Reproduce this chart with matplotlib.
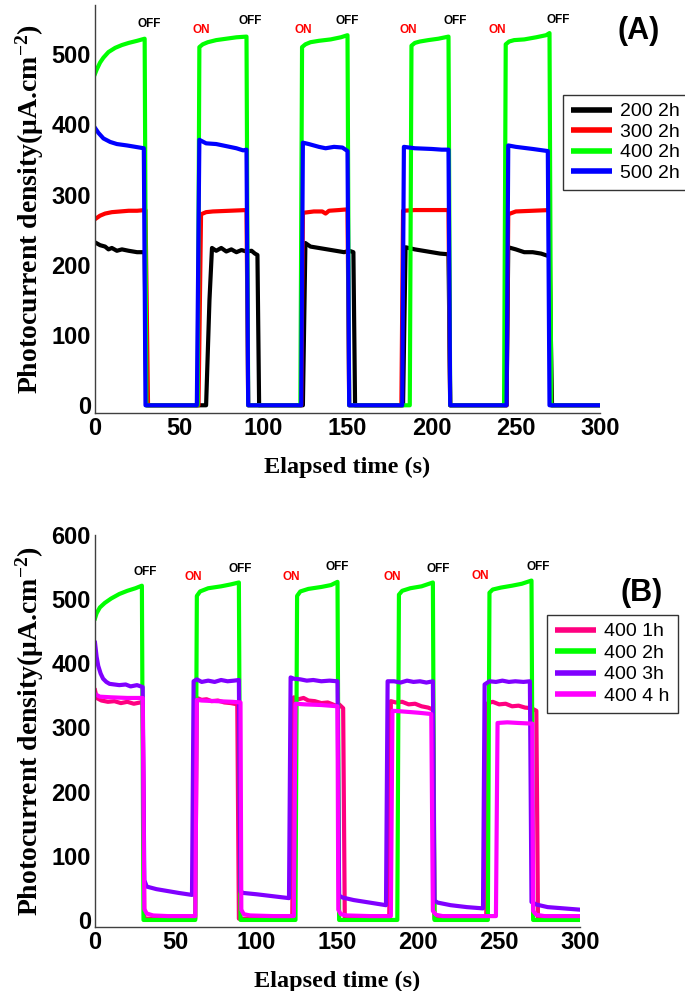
import matplotlib
matplotlib.use('Agg')
import matplotlib.pyplot as plt

# photocurrent transients: (time s, current uA/cm2)
# panel A - different annealing temperatures, 2h
a_200_2h = [(0, 232), (3, 228), (6, 226), (8, 222), (10, 224), (13, 220), (16, 222), (20, 220),
            (25, 218), (29.5, 218), (30.5, 0), (66, 0), (68, 150), (69.5, 224), (72, 220), (75, 224),
            (78, 219), (81, 222), (84, 218), (87, 221), (90, 219), (93, 220), (95, 216), (96.5, 214),
            (97.5, 0), (123.5, 0), (125, 231), (128, 226), (133, 224), (138, 222), (143, 220),
            (148, 218), (151, 220), (153.5, 218), (154.5, 0), (183, 0), (184.5, 225), (190, 222),
            (195, 220), (200, 218), (205, 216), (210, 215), (211, 0), (244.5, 0), (245.5, 225),
            (250, 222), (255, 218), (260, 218), (265, 216), (270, 212), (271.5, 0), (300, 0)]
a_300_2h = [(0, 265), (3, 270), (6, 273), (10, 275), (15, 276), (20, 277), (25, 277), (30, 278),
            (31.5, 0), (61.5, 0), (63, 272), (66, 275), (70, 276), (80, 277), (90, 278), (91, 0),
            (122.5, 0), (123.5, 274), (130, 276), (135, 276), (137, 273), (139, 277), (145, 278),
            (150, 279), (151, 0), (182, 0), (183, 277), (190, 278), (200, 278), (210, 278), (211, 0),
            (244.5, 0), (245.5, 272), (250, 276), (260, 277), (270, 278), (271, 0), (300, 0)]
a_400_2h = [(0, 472), (1, 478), (3, 488), (5, 495), (8, 503), (12, 509), (16, 513), (20, 516),
            (25, 519), (29.5, 522), (30.5, 0), (61, 0), (62, 510), (64, 514), (67, 517), (72, 520),
            (78, 522), (84, 524), (90, 525), (91, 0), (122, 0), (123, 510), (125, 514), (128, 517),
            (133, 519), (140, 521), (146, 524), (150, 527), (151, 0), (187, 0), (188, 512),
            (190, 516), (193, 518), (198, 520), (204, 522), (210, 525), (211, 0), (243, 0),
            (244, 514), (246, 518), (249, 520), (255, 521), (262, 524), (268, 527), (270, 530),
            (271, 0), (300, 0)]
a_500_2h = [(0, 395), (2, 388), (5, 380), (9, 375), (13, 372), (19, 370), (24, 368), (29, 366),
            (30, 0), (60.5, 0), (62, 378), (66, 373), (72, 372), (78, 369), (84, 366), (88, 363),
            (90, 364), (91, 0), (122.5, 0), (123.5, 374), (127, 372), (133, 368), (137, 366),
            (142, 368), (147, 367), (150, 362), (151, 0), (182.5, 0), (183.5, 368), (190, 366),
            (200, 365), (206, 364), (210, 364), (211, 0), (244.5, 0), (245.5, 370), (250, 368),
            (260, 365), (269, 362), (270, 0), (300, 0)]

# panel B - 400 C, different annealing times
b_400_1h = [(0, 358), (1, 346), (4, 342), (8, 340), (12, 341), (16, 338), (20, 340), (24, 337),
            (28, 339), (29.5, 337), (30.5, 2), (62, 2), (63, 346), (66, 343), (69, 344), (72, 341),
            (76, 342), (80, 339), (84, 338), (88, 336), (89, 2), (122, 2), (123, 347), (126, 344),
            (129, 346), (132, 342), (136, 341), (140, 338), (144, 339), (148, 335), (150, 333),
            (151, 336), (153.5, 330), (154.5, 2), (182, 2), (183, 341), (186, 339), (190, 340),
            (194, 336), (198, 337), (202, 333), (206, 331), (209, 328), (210, 2), (242, 2),
            (243, 338), (246, 340), (250, 336), (254, 337), (258, 333), (262, 334), (266, 331),
            (270, 330), (273, 326), (274, 2), (300, 2)]
b_400_2h = [(0, 470), (1, 478), (3, 487), (6, 494), (10, 501), (15, 508), (20, 513), (25, 517),
            (29, 521), (30, 0), (62, 0), (63, 505), (65, 512), (70, 517), (78, 520), (84, 523),
            (89, 526), (90, 0), (124, 0), (125, 505), (127, 512), (132, 516), (140, 519), (146, 522),
            (150, 527), (151, 0), (187, 0), (188, 507), (190, 513), (195, 517), (202, 520),
            (209, 526), (210, 0), (243, 0), (244, 510), (246, 515), (251, 518), (258, 521),
            (264, 524), (270, 529), (271, 0), (300, 0)]
b_400_3h = [(0, 432), (1, 410), (2, 396), (3.5, 384), (5, 376), (7, 371), (9, 368), (12, 367),
            (15, 366), (19, 367), (22, 364), (26, 366), (29.5, 363), (30.5, 62), (32, 52), (38, 48),
            (45, 45), (52, 42), (60, 39), (61, 372), (63, 375), (66, 371), (70, 373), (74, 371),
            (78, 374), (82, 372), (86, 373), (89, 374), (90, 44), (92, 42), (100, 40), (110, 37),
            (120, 34), (121, 378), (123, 376), (127, 375), (131, 373), (135, 374), (140, 372),
            (145, 373), (150, 372), (151, 38), (153, 35), (160, 31), (170, 27), (180, 23),
            (181, 372), (185, 372), (189, 370), (193, 373), (197, 371), (201, 372), (205, 370),
            (209, 372), (210, 30), (212, 27), (220, 23), (230, 20), (240, 18), (241, 367),
            (244, 372), (248, 371), (252, 373), (256, 371), (260, 372), (265, 371), (269, 372),
            (270, 28), (273, 24), (280, 20), (290, 18), (300, 16)]
b_400_4h = [(0, 352), (3, 348), (10, 347), (20, 346), (29.5, 346), (30.5, 17), (32, 10), (36, 7),
            (45, 6), (62, 6), (63, 343), (66, 342), (75, 341), (85, 340), (90, 339), (90.5, 16),
            (92, 9), (96, 7), (110, 6), (123, 6), (124, 337), (130, 336), (140, 335), (150, 333),
            (150.5, 16), (152, 9), (156, 7), (170, 6), (183, 6), (184, 326), (190, 325), (200, 323),
            (208, 321), (209, 14), (211, 8), (215, 6), (230, 6), (248, 6), (249, 307), (255, 308),
            (262, 307), (270.5, 306), (271, 14), (273, 8), (278, 6), (300, 6)]

labels_a = ['200 2h', '300 2h', '400 2h', '500 2h']
colors_a = ['black', '#ff0000', '#00ff00', '#0000ff']
labels_b = ['400 1h', '400 2h', '400 3h', '400 4 h']
colors_b = ['#ff0080', '#00ff00', '#8000ff', '#ff00ff']

# light on/off marks
off_a = [(32, 543), (92, 547), (150, 547), (214, 547), (275, 548)]
on_a = [(63, 534), (123.5, 534), (186, 534), (239, 535)]
off_b = [(31, 542), (90, 547), (149.5, 550), (212, 547), (274, 550)]
on_b = [(61, 534), (121.6, 534), (184, 534), (238, 536)]

plt.rcParams['font.family'] = ['Liberation Sans Narrow', 'Liberation Sans', 'DejaVu Sans']
plt.rcParams['font.weight'] = 'bold'
plt.rcParams['mathtext.fontset'] = 'custom'
plt.rcParams['mathtext.rm'] = 'Liberation Serif:bold'
plt.rcParams['mathtext.it'] = 'Liberation Serif:bold'
plt.rcParams['mathtext.bf'] = 'Liberation Serif:bold'

W, H = 685, 991
fig = plt.figure(figsize=(W / 100, H / 100), dpi=100)
ax1 = fig.add_axes([95 / W, 1 - 413 / H, 505 / W, 408 / H])
ax2 = fig.add_axes([95 / W, 1 - 927 / H, 485 / W, 392 / H])

serif_x = dict(family=['Liberation Serif', 'DejaVu Serif'], weight='bold', size=17.5)
serif_y = dict(family=['Liberation Serif', 'DejaVu Serif'], weight='bold', size=20)
ylab = 'Photocurrent density(\u03bcA.cm$^{-2}$)'


def draw(ax, series, labels, colors, offs, ons, ylim, yticks, tag, tag_pos, leg_pos, leg_h):
    for s, lab, c in zip(series, labels, colors):
        t = [p[0] for p in s]
        v = [p[1] for p in s]
        ax.plot(t, v, color=c, lw=3, label=lab, solid_joinstyle='round')
    ax.set_xlim(0, 300)
    ax.set_ylim(*ylim)
    ax.set_xticks([0, 50, 100, 150, 200, 250, 300])
    ax.set_yticks(yticks)
    ax.tick_params(length=0, labelsize=17, pad=3)
    for sp in ['top', 'right']:
        ax.spines[sp].set_visible(False)
    for sp in ['left', 'bottom']:
        ax.spines[sp].set_color('#404040')
        ax.spines[sp].set_linewidth(1)
    ax.set_xlabel('Elapsed time (s)', fontdict=serif_x, labelpad=12)
    ax.set_ylabel(ylab, fontdict=serif_y, labelpad=4)
    for x, y in offs:
        ax.text(x, y, 'OFF', color='black', fontsize=8.5, ha='center', va='center',
                family=['Liberation Sans', 'DejaVu Sans'], weight='bold')
    for x, y in ons:
        ax.text(x, y, 'ON', color='#ff0000', fontsize=8.5, ha='center', va='center',
                family=['Liberation Sans', 'DejaVu Sans'], weight='bold')
    ax.text(tag_pos[0], tag_pos[1], tag, fontsize=22, ha='center', va='center',
            family=['Liberation Sans', 'DejaVu Sans'], weight='bold')
    leg = ax.legend(loc='upper left', bbox_to_anchor=leg_pos, bbox_transform=fig.transFigure,
                    borderaxespad=0, fancybox=False, edgecolor='#333333', framealpha=1,
                    prop=dict(family=['Liberation Sans Narrow', 'Liberation Sans'],
                              weight='normal', size=14),
                    handlelength=2.1, handletextpad=0.45, labelspacing=leg_h,
                    borderpad=0.4)
    leg.get_frame().set_linewidth(1)
    for h in leg.get_lines():
        h.set_linewidth(4)
        h.set_solid_capstyle('butt')


draw(ax1, [a_200_2h, a_300_2h, a_400_2h, a_500_2h], labels_a, colors_a, off_a, on_a,
     (-11, 570), [0, 100, 200, 300, 400, 500], '(A)', (323, 533), (563 / W, 1 - 95 / H), 0.15)
draw(ax2, [b_400_1h, b_400_2h, b_400_3h, b_400_4h], labels_b, colors_b, off_b, on_b,
     (-11, 600), [0, 100, 200, 300, 400, 500, 600], '(B)', (338, 510), (547 / W, 1 - 615 / H), 0.2)

fig.savefig('out.png', dpi=100)
